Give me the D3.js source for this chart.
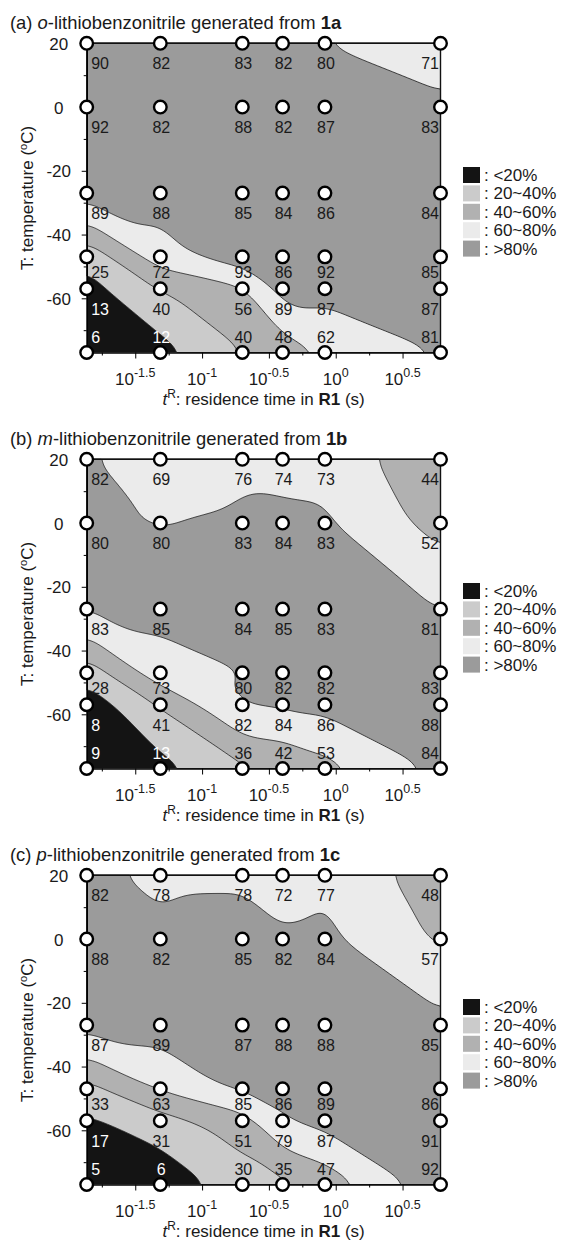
<!DOCTYPE html>
<html>
<head>
<meta charset="utf-8">
<script src="https://cdn.jsdelivr.net/npm/d3@7/dist/d3.min.js"></script>
<style>
  body { margin: 0; background: #fff; }
  text { font-family: Arial, "Liberation Sans", sans-serif; fill: #1a1a1a; }
</style>
</head>
<body>
<svg id="chart" width="563" height="1248"></svg>
<script>
// residence times in R1 (s) and temperatures (oC) of the grid
var times = [0.0137, 0.0487, 0.2, 0.4, 0.83, 6.08];
var temps = [20, 0, -27, -47, -57, -77];

// yields (%) row by row, top (20 oC) to bottom (-77 oC)
var yieldA = [
  [90, 82, 83, 82, 80, 71],
  [92, 82, 88, 82, 87, 83],
  [89, 88, 85, 84, 86, 84],
  [25, 72, 93, 86, 92, 85],
  [13, 40, 56, 89, 87, 87],
  [6, 12, 40, 48, 62, 81]
];
var yieldB = [
  [82, 69, 76, 74, 73, 44],
  [80, 80, 83, 84, 83, 52],
  [83, 85, 84, 85, 83, 81],
  [28, 73, 80, 82, 82, 83],
  [8, 41, 82, 84, 86, 88],
  [9, 13, 36, 42, 53, 84]
];
var yieldC = [
  [82, 78, 78, 72, 77, 48],
  [88, 82, 85, 82, 84, 57],
  [87, 89, 87, 88, 88, 85],
  [33, 63, 85, 86, 89, 86],
  [17, 31, 51, 79, 87, 91],
  [5, 6, 30, 35, 47, 92]
];

var panelLetters = ["a", "b", "c"];
var isomers = ["o", "m", "p"];
var substrates = ["1a", "1b", "1c"];

var thresholds = [20, 40, 60, 80];
var bandLabels = ["<20%", "20~40%", "40~60%", "60~80%", ">80%"];
var bandColors = ["#141414", "#cbcbcb", "#b1b1b1", "#ebebeb", "#9b9b9b"];

var xTickExp = [-1.5, -1, -0.5, 0, 0.5];
var xMinorExp = [-1.75, -1.25, -0.75, -0.25, 0.25];
var yTicks = [20, 0, -20, -40, -60];
var yMinor = [10, -10, -30, -50, -70];

var svg = d3.select("#chart");
var panelH = 416;
var plotL = 86.7, plotR = 440.5, plotT = 43.3, plotB = 352.5;
var smoothR = 9;

// linear value inside the grid triangles (cells split along the falling diagonal)
function gridValue(data, lt, T) {
  var lts = times.map(function(t) { return Math.log10(t); });
  var i = 0;
  while (i < lts.length - 2 && lt > lts[i + 1]) i++;
  var j = 0;
  while (j < temps.length - 2 && T < temps[j + 1]) j++;
  var fx = (lt - lts[i]) / (lts[i + 1] - lts[i]);
  var fy = (T - temps[j]) / (temps[j + 1] - temps[j]);
  fx = Math.max(0, Math.min(1, fx));
  fy = Math.max(0, Math.min(1, fy));
  var a = data[j][i], b = data[j][i + 1], c = data[j + 1][i], d = data[j + 1][i + 1];
  if (fx >= fy) return a + (b - a) * fx + (d - b) * fy;
  return a + (c - a) * fy + (d - c) * fx;
}

function drawPanel(k, data) {
  var g = svg.append("g").attr("transform", "translate(0," + (k * panelH) + ")");

  var x = d3.scaleLog().domain([times[0], times[times.length - 1]]).range([plotL, plotR]);
  var y = d3.scaleLinear().domain([temps[temps.length - 1], temps[0]]).range([plotB, plotT]);

  // title
  var title = g.append("text").attr("x", 10).attr("y", 29).style("font-size", "18.4px");
  title.append("tspan").text("(" + panelLetters[k] + ") ");
  title.append("tspan").style("font-style", "italic").text(isomers[k]);
  title.append("tspan").text("-lithiobenzonitrile generated from ");
  title.append("tspan").style("font-weight", "bold").text(substrates[k]);

  // contour bands: surface sampled per pixel, then lightly smoothed
  var w = plotR - plotL, h = plotB - plotT;
  var nx = Math.round(w), ny = Math.round(h);
  var values = new Float64Array(nx * ny);
  for (var jj = 0; jj < ny; jj++) {
    for (var ii = 0; ii < nx; ii++) {
      var px = plotL + (ii + 0.5) * w / nx;
      var py = plotT + (jj + 0.5) * h / ny;
      values[jj * nx + ii] = gridValue(data, Math.log10(x.invert(px)), y.invert(py));
    }
  }
  d3.blur2({ data: values, width: nx, height: ny }, smoothR);

  var bands = d3.contours().size([nx, ny]).thresholds(thresholds)(Array.from(values));
  var proj = d3.geoTransform({
    point: function(px, py) { this.stream.point(plotL + px * w / nx, plotT + py * h / ny); }
  });
  var path = d3.geoPath(proj);

  g.append("rect")
    .attr("x", plotL).attr("y", plotT)
    .attr("width", w).attr("height", h)
    .attr("fill", bandColors[0]);

  g.selectAll("path.band")
    .data(bands)
    .enter().append("path")
    .attr("class", "band")
    .attr("d", path)
    .attr("fill", function(d, i) { return bandColors[i + 1]; })
    .attr("stroke", "#2a2a2a")
    .attr("stroke-width", 0.9)
    .attr("stroke-linejoin", "round");

  // axes
  var yAxis = g.append("g")
    .attr("transform", "translate(" + plotL + ",0)")
    .call(d3.axisLeft(y).tickValues(yTicks).tickSize(5).tickSizeOuter(0)
      .tickFormat(function(d) { return String(d); }));
  yAxis.selectAll("text")
    .attr("x", -28).attr("dy", "0.36em")
    .style("text-anchor", "middle")
    .style("font-size", "17px")
    .style("font-family", "Arial, 'Liberation Sans', sans-serif")
    .attr("fill", "#1a1a1a");
  yAxis.select(".domain").attr("stroke-width", 1.6);

  g.append("g")
    .attr("transform", "translate(" + plotL + ",0)")
    .call(d3.axisLeft(y).tickValues(yMinor).tickSize(3).tickFormat(""))
    .select(".domain").remove();

  var xAxis = g.append("g")
    .attr("transform", "translate(0," + plotB + ")")
    .call(d3.axisBottom(x).tickValues(xTickExp.map(function(e) { return Math.pow(10, e); }))
      .tickSize(6).tickSizeOuter(0).tickFormat(""));
  xAxis.select(".domain").attr("stroke-width", 1.6);

  g.append("g")
    .attr("transform", "translate(0," + plotB + ")")
    .call(d3.axisBottom(x).tickValues(xMinorExp.map(function(e) { return Math.pow(10, e); }))
      .tickSize(3).tickFormat(""))
    .select(".domain").remove();

  xTickExp.forEach(function(e) {
    var t = g.append("text")
      .attr("x", x(Math.pow(10, e)))
      .attr("y", plotB + 32)
      .style("text-anchor", "middle")
      .style("font-size", "17px");
    t.append("tspan").text("10");
    t.append("tspan").attr("dy", -8).style("font-size", "12.5px").text(String(e));
  });

  // frame on top and right
  g.append("path")
    .attr("d", d3.line()([[x(times[0]), y(temps[0])],
                          [x(times[times.length - 1]), y(temps[0])],
                          [x(times[times.length - 1]), y(temps[temps.length - 1])]]))
    .attr("fill", "none")
    .attr("stroke", "#111")
    .attr("stroke-width", 1.4);

  // axis titles
  var xt = g.append("text")
    .attr("x", (plotL + plotR) / 2)
    .attr("y", 405)
    .style("text-anchor", "middle")
    .style("font-size", "17px");
  xt.append("tspan").style("font-style", "italic").text("t");
  xt.append("tspan").attr("dy", -7).style("font-size", "12px").text("R");
  xt.append("tspan").attr("dy", 7).text(": residence time in ");
  xt.append("tspan").style("font-weight", "bold").text("R1");
  xt.append("tspan").text(" (s)");

  var yt = g.append("text")
    .attr("transform", "translate(33," + ((plotT + plotB) / 2) + ") rotate(-90)")
    .style("text-anchor", "middle")
    .style("font-size", "17px");
  yt.append("tspan").text("T: temperature (");
  yt.append("tspan").attr("dy", -6).style("font-size", "11px").text("o");
  yt.append("tspan").attr("dy", 6).text("C)");

  // grid points
  var pts = [];
  temps.forEach(function(T, r) {
    times.forEach(function(t, c) {
      pts.push({ t: t, T: T, r: r, c: c, v: data[r][c] });
    });
  });

  g.selectAll("circle.pt")
    .data(pts)
    .enter().append("circle")
    .attr("class", "pt")
    .attr("cx", function(d) { return x(d.t); })
    .attr("cy", function(d) { return y(d.T); })
    .attr("r", 6.3)
    .attr("fill", "#fff")
    .attr("stroke", "#000")
    .attr("stroke-width", 2.4);

  g.selectAll("text.val")
    .data(pts)
    .enter().append("text")
    .attr("class", "val")
    .attr("x", function(d) {
      if (d.c === 0) return x(d.t) + 4.5;
      if (d.c === times.length - 1) return x(d.t) - 1.5;
      return x(d.t) + 1;
    })
    .attr("y", function(d) {
      if (d.r === temps.length - 1) return y(d.T) - 10;
      var gap = y(temps[d.r + 1]) - y(d.T);
      return y(d.T) + (gap < 40 ? 21 : 26);
    })
    .style("text-anchor", function(d) {
      if (d.c === 0) return "start";
      if (d.c === times.length - 1) return "end";
      return "middle";
    })
    .style("font-size", "16px")
    .style("fill", function(d) { return d.v < 20 ? "#fff" : "#1a1a1a"; })
    .text(function(d) { return d.v; });

  // legend
  var leg = g.append("g").attr("transform", "translate(463,167)");
  var item = leg.selectAll("g")
    .data(bandLabels)
    .enter().append("g")
    .attr("transform", function(d, i) { return "translate(0," + (i * 18.4) + ")"; });
  item.append("rect")
    .attr("width", 17).attr("height", 16)
    .attr("fill", function(d, i) { return bandColors[i]; });
  item.append("text")
    .attr("x", 21).attr("y", 14)
    .style("font-size", "17px")
    .text(function(d) { return ": " + d; });
}

[yieldA, yieldB, yieldC].forEach(function(data, k) { drawPanel(k, data); });
</script>
</body>
</html>
